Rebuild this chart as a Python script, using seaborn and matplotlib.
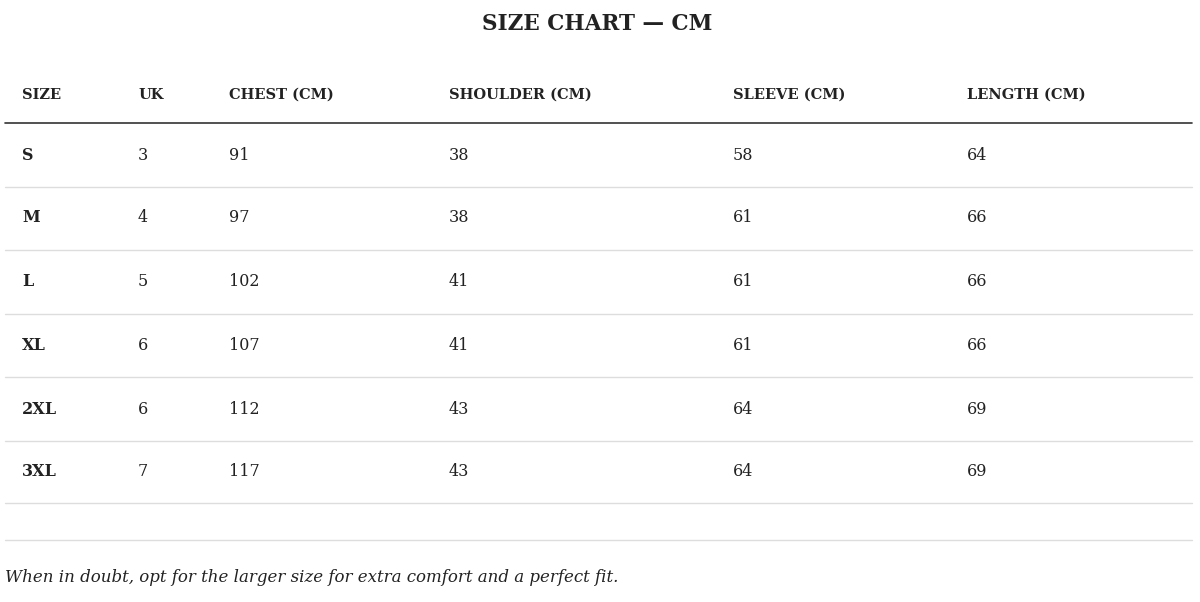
import matplotlib.pyplot as plt
import seaborn as sns

sns.set_theme(style="white")
plt.rcParams['font.family'] = ['DejaVu Serif']

headers = ["SIZE", "UK", "CHEST (CM)", "SHOULDER (CM)", "SLEEVE (CM)", "LENGTH (CM)"]
sizes = ["S", "M", "L", "XL", "2XL", "3XL"]
uk = [3, 4, 5, 6, 6, 7]
chest = [91, 97, 102, 107, 112, 117]
shoulder = [38, 38, 41, 41, 43, 43]
sleeve = [58, 61, 61, 61, 64, 64]
length = [64, 66, 66, 66, 69, 69]
note = "When in doubt, opt for the larger size for extra comfort and a perfect fit."

col_x = [22, 138, 229, 449, 733, 967]
row_y = [155, 218, 282, 345, 409, 471]
row_h = 63.5

fig = plt.figure(figsize=(12, 6.02), dpi=100)
ax = fig.add_axes([0, 0, 1, 1])
ax.set_xlim(0, 1200)
ax.set_ylim(602, 0)
ax.axis("off")

ax.text(597, 24, "SIZE CHART — CM", ha="center", va="center", fontsize=15.5,
        fontweight="bold", color="#222222")
for x, h in zip(col_x, headers):
    ax.text(x, 95, h, ha="left", va="center", fontsize=10.5, fontweight="bold", color="#222222")
ax.plot([5, 1192], [123, 123], color="#333333", lw=1.2)

cols = [sizes, uk, chest, shoulder, sleeve, length]
for i, y in enumerate(row_y):
    for j, (x, c) in enumerate(zip(col_x, cols)):
        ax.text(x, y, str(c[i]), ha="left", va="center", fontsize=11.5,
                fontweight="bold" if j == 0 else "normal", color="#222222")
    ax.plot([5, 1192], [y + row_h / 2, y + row_h / 2], color="#dddddd", lw=1)
ax.plot([5, 1192], [540, 540], color="#dddddd", lw=1)

ax.text(5, 577, note, ha="left", va="center", fontsize=12, fontstyle="italic", color="#222222")

fig.savefig("out.png", dpi=100)
